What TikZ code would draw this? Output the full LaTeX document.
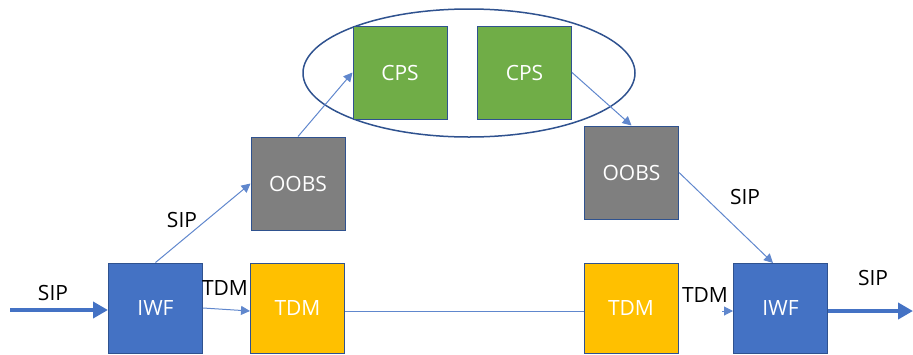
\documentclass[tikz,border=0pt]{standalone}
\usepackage{fontspec}
\setmainfont{Open Sans}
\usetikzlibrary{arrows.meta}
\definecolor{iwfblue}{HTML}{4472C4}
\definecolor{edgeblue}{HTML}{2F528F}
\definecolor{oobsgray}{HTML}{7F7F7F}
\definecolor{tdmyellow}{HTML}{FFC000}
\definecolor{cpsgreen}{HTML}{70AD47}

\begin{document}
\begin{tikzpicture}[x=0.5pt,y=-0.5pt,
  box/.style={draw=edgeblue, line width=0.5pt, minimum width=47pt, minimum height=46.5pt,
    inner sep=0pt, text=white, font=\fontsize{10.5}{12}\selectfont},
  lowbox/.style={box, minimum height=45pt},
  lbl/.style={font=\fontsize{10.5}{12}\selectfont},
  thin arrow/.style={draw=iwfblue!85, line width=0.5pt, -{Triangle[length=4.5pt,width=4.5pt]}},
  thick arrow/.style={draw=iwfblue, line width=2pt, -{Triangle[length=7.5pt,width=8pt]}}]
\useasboundingbox (0,0) rectangle (913,354);
% CPS group
\draw[edgeblue, line width=0.75pt] (469,73) ellipse [x radius=166, y radius=64];
\node[box, fill=cpsgreen] (cpsL) at (400,72.5) {CPS};
\node[box, fill=cpsgreen] (cpsR) at (524.5,72.5) {CPS};
% OOBS
\node[box, fill=oobsgray] (oobsL) at (298,183.5) {OOBS};
\node[box, fill=oobsgray] (oobsR) at (631.5,172.5) {OOBS};
% bottom row
\node[lowbox, fill=iwfblue] (iwfL) at (155.5,308) {IWF};
\node[lowbox, fill=tdmyellow] (tdmL) at (297.5,308) {TDM};
\node[lowbox, fill=tdmyellow] (tdmR) at (631,308) {TDM};
\node[lowbox, fill=iwfblue] (iwfR) at (780.5,308) {IWF};
\coordinate (sipin) at (10,310);
\coordinate (sipout) at (913,311);
\coordinate (tdmin) at (722,311);
% connectors
\draw[thick arrow] (sipin) -- (iwfL.west |- sipin);
\draw[thick arrow] (iwfR.east |- sipout) -- (sipout);
\draw[thin arrow] (iwfL.east) -- (tdmL.west |- sipout);
\draw[draw=iwfblue!85, line width=0.5pt] (tdmL.east |- sipout) -- (tdmR.west |- sipout);
\draw[thin arrow] (tdmin) -- (iwfR.west |- tdmin);
\draw[thin arrow] (iwfL.north) -- (oobsL.west);
\draw[thin arrow] (oobsL.north) -- (cpsL.west);
\draw[thin arrow] (cpsR.east) -- (oobsR.north);
\draw[thin arrow] (oobsR.east) -- (773,263);
% labels
\node[lbl] (sip1) at (53,293) {SIP};
\node[lbl] (tdm1) at (225,288) {TDM};
\node[lbl] (sip2) at (182,220) {SIP};
\node[lbl] (sip3) at (745,197) {SIP};
\node[lbl] (tdm2) at (705,295) {TDM};
\node[lbl] (sip4) at (873,278) {SIP};
\end{tikzpicture}
\end{document}
